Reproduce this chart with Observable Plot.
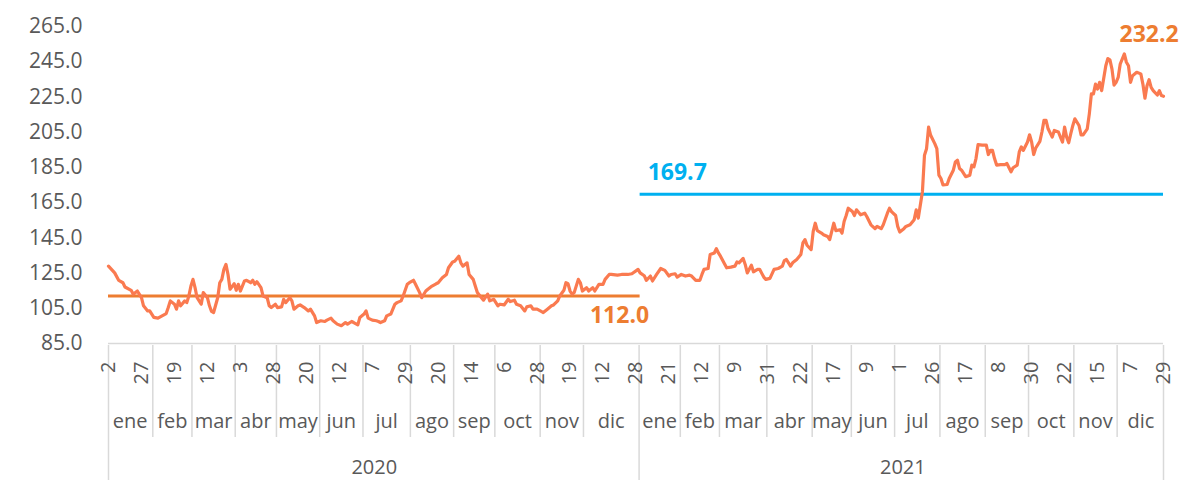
<!DOCTYPE html>
<html>
<head>
<meta charset="utf-8">
<script src="https://cdn.jsdelivr.net/npm/d3@7"></script>
<script src="https://cdn.jsdelivr.net/npm/@observablehq/plot@0.6"></script>
<style>
  html, body { margin: 0; padding: 0; background: #ffffff; }
  #chart svg { display: block; }
</style>
</head>
<body>
<div id="chart"></div>
<script>
// Trading-day index (0 = 2 ene 2020, 512 = 29 dic 2021) and price
const day = [0,3,5,7,8,11,12,14,16,17,19,20,22,24,26,28,29,30,32,33,34,35,37,38,39,40,41,42,43,45,46,48,49,50,51,53,54,55,56,57,58,59,61,62,63,64,66,67,69,70,71,72,74,75,77,78,79,81,82,84,85,86,88,89,90,92,93,95,97,98,100,101,103,105,106,108,109,111,113,115,116,118,119,121,122,124,125,126,128,130,131,132,134,135,137,139,140,142,143,145,146,148,149,151,152,154,155,157,159,160,162,164,165,167,168,170,171,172,174,175,177,178,179,181,182,184,185,187,189,190,192,194,195,197,198,200,202,203,205,206,208,210,211,213,215,216,218,219,221,222,223,224,225,226,228,229,230,232,233,235,236,238,240,241,243,244,247,249,252,254,257,258,260,261,263,264,266,268,270,272,273,275,276,278,280,282,283,285,287,288,289,291,292,294,295,296,297,299,300,302,304,305,306,308,309,310,312,313,315,316,318,319,321,323,325,327,328,329,331,332,334,336,337,338,339,341,342,343,344,346,347,349,350,352,353,355,356,357,358,359,361,362,363,365,367,368,370,372,373,375,376,378,379,380,382,383,384,386,387,389,391,392,393,395,396,397,398,399,401,402,403,404,405,407,408,410,411,412,413,414,416,418,419,420,421,422,424,426,427,428,429,430,431,433,435,436,438,439,441,442,443,444,446,447,448,449,450,452,453,454,455,456,458,459,461,462,463,464,465,466,467,468,469,471,472,473,475,476,477,478,479,480,481,482,484,485,486,487,488,489,490,491,493,494,495,496,497,499,501,502,503,504,505,506,507,509,510,511,512];
const price = [128.9,125.1,120.8,119.5,117.1,115.2,113,114.8,111,106.4,103.5,103.5,99.8,99.4,100.7,102,105.4,109.2,107.3,104.5,109.2,106.4,109.2,108.2,112,117.6,121.4,116.7,111,107.3,113.9,111,106.4,103.2,102.6,111,119.5,121.4,127.1,129.9,124.2,115.8,118.9,115.2,118.6,114.8,120.5,120.9,119.5,120.9,118.6,120.1,116.7,112,111,106.4,105.4,107.3,105.4,105.8,110.1,108.2,111,109.2,104.5,106.4,106.9,105.4,103.5,104.5,100.7,96.9,97.9,97.5,98.3,99.4,97.9,96,95.1,96.9,96,97.5,96.9,95.6,99.8,101.7,103.5,99.4,98.3,97.9,97.5,96.9,97.9,100.7,101.7,107.3,108.2,109.2,112,118.6,119.5,120.9,118.6,113.9,111,114.8,115.8,117.6,118.9,119.5,122.3,124.2,128,131.3,131.7,134.6,130.8,128.9,130.8,124.2,121.4,117.6,113.9,111,109.6,113,109.2,110.1,106.4,107.3,106.9,110.1,108.8,109.6,107.3,106.4,103.5,105.8,106.4,104.5,104.5,103.2,102.6,104.5,106.4,106.9,109.2,112,115.2,119.5,118.9,114.8,113,113.9,121.4,119.5,114.8,116.7,114.8,116.7,114.8,118.6,118.6,121.4,124.2,124.2,123.8,124.2,124.2,124.6,127.1,125.1,123.5,120.9,123.3,120.5,124.2,127.6,126.5,123.3,124.2,124.6,122.7,124.2,123.3,123.8,123.3,120.9,120.9,124.2,127.1,127.6,135.5,136.4,138.9,136.4,134.6,130.2,128,128.4,128.9,131.3,130.8,133.3,129.9,125.1,129.5,125.7,127.1,127.1,122.7,121.4,122,127.1,127.6,128.9,132.1,132.7,128.9,130.8,132.7,135.5,142.1,144,140.8,138.3,148.7,153.3,149.1,147.7,146.8,145.8,144,153.3,149.1,149.6,147.7,154.3,157.7,161.8,159.9,157.7,160.9,158.1,159,157.1,152.4,150.2,151.5,150.2,152.4,159,161.8,159.9,157.7,151.5,148.3,150.2,151.5,152.4,155.3,160.9,156.2,171.2,191.9,195.6,207.9,203.2,198.5,195.6,180.6,178.7,175,175.3,178.7,183.4,188.1,189.1,184.4,183.4,179.7,180.6,186.3,185.3,190,197.9,197.6,197.6,192.3,194.7,194.7,190,186.3,186.6,186.6,187.2,182.5,184.8,186.3,193.8,196.6,194.7,199.4,203.5,199.4,192.3,196,199.8,205.1,211.7,211.7,206.9,202.2,206,205.1,202.2,199.4,207.9,202.2,199,204.1,208.8,212.6,208.8,203.5,203.5,206.9,215.4,226.7,226.7,232.3,229.5,233.3,228.6,242.7,246.8,246.1,240.8,231.7,233.3,236.1,243.7,249.4,244.7,242.7,233.3,237.1,239,238.1,232.3,224.3,231.4,234.8,230.4,228.6,226.1,228.6,225.8,225.4];

// Axis categories
const yTicks = [85, 105, 125, 145, 165, 185, 205, 225, 245, 265];
const dayTickLabels = ["2","27","19","12","3","28","20","12","7","29","20","14","6","28","19","12","28",
                       "21","12","9","31","22","17","9","1","26","17","8","30","22","15","7","29"];
const dayTickStep = 16;
const monthNames = ["ene","feb","mar","abr","may","jun","jul","ago","sep","oct","nov","dic"];
const monthStarts = [0,22,41,62,82,103,124,147,168,188,210,231, 258,278,297,320,342,361,382,404,426,447,469,490];
const lastDay = 513;
const years = ["2020", "2021"];
const yearStarts = [0, 258];

// Annual averages
const avgValues = [112.0, 169.7];
const avgFrom = [0, 258];
const avgTo = [258, 512];
const avgColors = ["#ED7D31", "#00B0F0"];
const lastLabel = 232.2;

// Derived tables
const series = day.map((d, i) => ({day: d, price: price[i]}));
const dayTicks = dayTickLabels.map((t, i) => ({pos: i * dayTickStep, label: t}));
const bounds = monthStarts.concat([lastDay]);
const months = monthStarts.map((s, i) => ({
  mid: (s + bounds[i + 1]) / 2 - 0.5,
  name: monthNames[i % 12]
}));
const monthSeps = monthStarts.filter(s => !yearStarts.includes(s)).map(s => s - 0.5);
const yearSeps = [0, yearStarts[1] - 0.5, lastDay - 1];
const yearBounds = yearStarts.concat([lastDay]);
const yearData = years.map((y, i) => ({mid: (yearStarts[i] + yearBounds[i + 1]) / 2, year: y}));
const avgData = avgValues.map((v, i) => ({value: v, from: avgFrom[i], to: avgTo[i], color: avgColors[i]}));

const gray = "#595959";
const sepColor = "#D9D9D9";

const chart = Plot.plot({
  width: 1179,
  height: 480,
  marginLeft: 108,
  marginRight: 16,
  marginTop: 26,
  marginBottom: 137,
  style: {
    fontFamily: "'Open Sans', sans-serif",
    fontSize: "20px",
    color: gray,
    background: "#ffffff",
    overflow: "visible"
  },
  x: {domain: [0, 512], axis: null},
  y: {domain: [85, 265], axis: null},
  marks: [
    Plot.axisY({ticks: yTicks, tickFormat: d => d.toFixed(1), tickSize: 0, tickPadding: 26, label: null, fontSize: 21, fill: gray}),
    // category axis line
    Plot.ruleY([85], {stroke: sepColor, strokeWidth: 1.5}),
    // month separators
    Plot.ruleX(monthSeps, {x: d => d, stroke: sepColor, strokeWidth: 1.5, insetTop: 319, insetBottom: -94}),
    // year separators
    Plot.ruleX(yearSeps, {x: d => d, stroke: sepColor, strokeWidth: 1.5, insetTop: 319, insetBottom: -137}),
    // day labels (rotated)
    Plot.text(dayTicks, {x: "pos", text: "label", frameAnchor: "bottom", lineAnchor: "middle", rotate: -90, textAnchor: "end", dy: 18, fill: gray, fontSize: 20}),
    // month labels
    Plot.text(months, {x: "mid", text: "name", frameAnchor: "bottom", lineAnchor: "middle", dy: 78, fill: gray, fontSize: 20}),
    // year labels
    Plot.text(yearData, {x: "mid", text: "year", frameAnchor: "bottom", lineAnchor: "middle", dy: 124, fill: gray, fontSize: 20}),
    // annual averages
    Plot.ruleY(avgData, {y: "value", x1: "from", x2: "to", stroke: "color", strokeWidth: 3}),
    // price series
    Plot.line(series, {x: "day", y: "price", stroke: "#FA7A50", strokeWidth: 3.2, strokeLinejoin: "round"}),
    // value labels
    Plot.text([avgData[0]], {x: 248, y: "value", text: d => d.value.toFixed(1), dy: 20, fill: avgColors[0], fontWeight: "bold", fontSize: 23}),
    Plot.text([avgData[1]], {x: 276, y: "value", text: d => d.value.toFixed(1), dy: -22, fill: avgColors[1], fontWeight: "bold", fontSize: 23}),
    Plot.text([lastLabel], {x: 505, frameAnchor: "top", lineAnchor: "middle", text: d => d.toFixed(1), dy: 8, fill: "#ED7D31", fontWeight: "bold", fontSize: 23})
  ]
});

document.getElementById("chart").appendChild(chart);
</script>
</body>
</html>
